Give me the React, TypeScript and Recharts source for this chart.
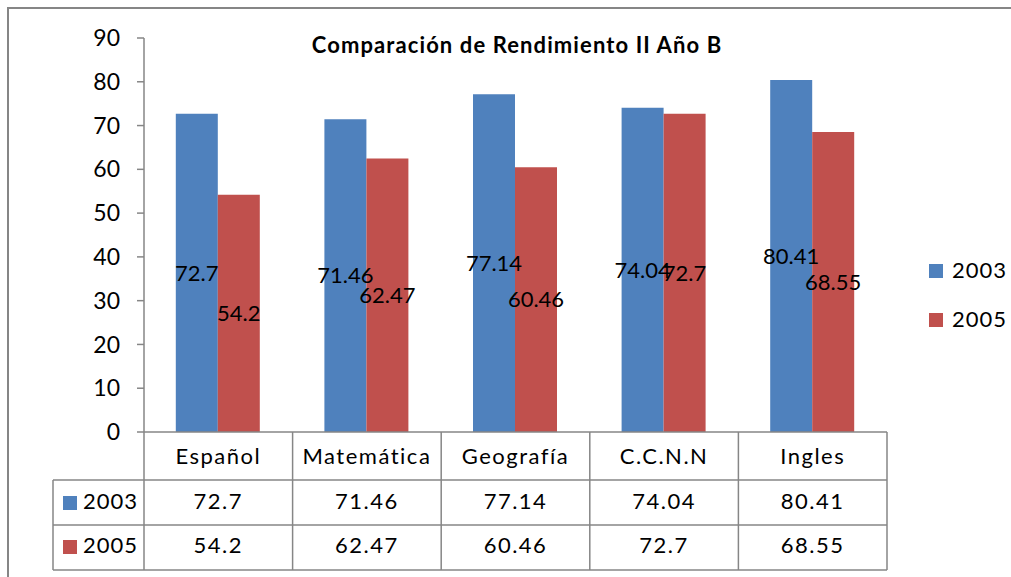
import { BarChart, Bar, XAxis, YAxis, LabelList } from "recharts";

const categories = ["Español", "Matemática", "Geografía", "C.C.N.N", "Ingles"];
const values2003 = [72.7, 71.46, 77.14, 74.04, 80.41];
const values2005 = [54.2, 62.47, 60.46, 72.7, 68.55];
const seriesNames = ["2003", "2005"];
const seriesColors = ["#4F81BD", "#C0504D"];
const yTicks = [0, 10, 20, 30, 40, 50, 60, 70, 80, 90];
const title = "Comparación de Rendimiento II Año B";

const chartData = categories.map((name, i) => ({
  name,
  s2003: values2003[i],
  s2005: values2005[i],
}));

const W = 1003;
const H = 569;
const FONT = "Lato, 'Open Sans', sans-serif";
const GRAY = "#868686";

// plot area (chart coords)
const PLOT_LEFT = 136;
const PLOT_RIGHT = 879;
const PLOT_TOP = 30;
const PLOT_BOTTOM = 424;
const Y_AXIS_W = 60;
const X_AXIS_H = 48;

const colW = (PLOT_RIGHT - PLOT_LEFT) / categories.length;
const rowLines = [472, 517, 562];
const rowCenters = [495, 539];
const tableLeft = 45;

function CategoryTick(props: any) {
  const { x, payload } = props;
  return (
    <text x={x} y={PLOT_BOTTOM + 26} textAnchor="middle" dominantBaseline="middle" fontSize={22} letterSpacing={1.5} fontFamily={FONT} fill="#000">
      {payload.value}
    </text>
  );
}

export default function App() {
  const rows = [values2003, values2005];
  return (
    <div
      style={{
        position: "fixed",
        left: 7,
        top: 7,
        width: W + 2,
        height: H + 2,
        overflow: "hidden",
        background: "#fff",
        borderTop: `2px solid ${GRAY}`,
        borderLeft: `2px solid ${GRAY}`,
      }}
    >
      <style>{"html, body { overflow: hidden; }"}</style>
      <BarChart
        width={W}
        height={H}
        data={chartData}
        margin={{ top: PLOT_TOP, right: W - PLOT_RIGHT, bottom: H - PLOT_BOTTOM - X_AXIS_H, left: PLOT_LEFT - Y_AXIS_W }}
        barCategoryGap="21.4%"
        barGap={0}
        style={{ marginLeft: -1, marginTop: -1 }}
      >
        <XAxis
          dataKey="name"
          height={X_AXIS_H}
          axisLine={{ stroke: GRAY, strokeWidth: 1.5 }}
          tickLine={false}
          tick={<CategoryTick />}
          interval={0}
        />
        <YAxis
          width={Y_AXIS_W}
          domain={[0, 90]}
          ticks={yTicks}
          interval={0}
          axisLine={{ stroke: GRAY, strokeWidth: 1.5 }}
          tickLine={{ stroke: GRAY, strokeWidth: 1.5 }}
          tickSize={7}
          tickMargin={17}
          tick={{ fontSize: 23, fontFamily: FONT, fill: "#000" }}
        />
        <Bar dataKey="s2003" name={seriesNames[0]} fill={seriesColors[0]} isAnimationActive={false}>
          <LabelList dataKey="s2003" position="center" fill="#000" fontSize={22} fontFamily={FONT} />
        </Bar>
        <Bar dataKey="s2005" name={seriesNames[1]} fill={seriesColors[1]} isAnimationActive={false}>
          <LabelList dataKey="s2005" position="center" fill="#000" fontSize={22} fontFamily={FONT} />
        </Bar>
      </BarChart>
      <svg width={W} height={H} style={{ position: "absolute", left: -1, top: -1, pointerEvents: "none" }}>
        <text x={509} y={39} textAnchor="middle" dominantBaseline="middle" fontSize={22} letterSpacing={1.1} fontWeight="bold" fontFamily={FONT} fill="#000">
          {title}
        </text>
        {/* data table */}
        {rowLines.map((y) => (
          <line key={y} x1={tableLeft} y1={y} x2={PLOT_RIGHT} y2={y} stroke={GRAY} strokeWidth={1.5} />
        ))}
        <line x1={tableLeft} y1={rowLines[0]} x2={tableLeft} y2={rowLines[2]} stroke={GRAY} strokeWidth={1.5} />
        {Array.from({ length: categories.length + 1 }, (_, i) => (
          <line key={i} x1={PLOT_LEFT + i * colW} y1={PLOT_BOTTOM} x2={PLOT_LEFT + i * colW} y2={rowLines[2]} stroke={GRAY} strokeWidth={1.5} />
        ))}
        {rows.map((vals, r) => (
          <g key={r}>
            <rect x={55} y={rowCenters[r] - 7} width={14} height={14} fill={seriesColors[r]} />
            <text x={75} y={rowCenters[r]} dominantBaseline="middle" fontSize={22} letterSpacing={1} fontFamily={FONT} fill="#000">
              {seriesNames[r]}
            </text>
            {vals.map((v, i) => (
              <text key={i} x={PLOT_LEFT + (i + 0.5) * colW} y={rowCenters[r]} textAnchor="middle" dominantBaseline="middle" fontSize={22} letterSpacing={1.5} fontFamily={FONT} fill="#000">
                {String(v)}
              </text>
            ))}
          </g>
        ))}
        {/* legend */}
        {seriesNames.map((s, i) => (
          <g key={s}>
            <rect x={921} y={256 + i * 49} width={14} height={14} fill={seriesColors[i]} />
            <text x={944} y={264 + i * 49} dominantBaseline="middle" fontSize={22} letterSpacing={1} fontFamily={FONT} fill="#000">
              {s}
            </text>
          </g>
        ))}
      </svg>
    </div>
  );
}
